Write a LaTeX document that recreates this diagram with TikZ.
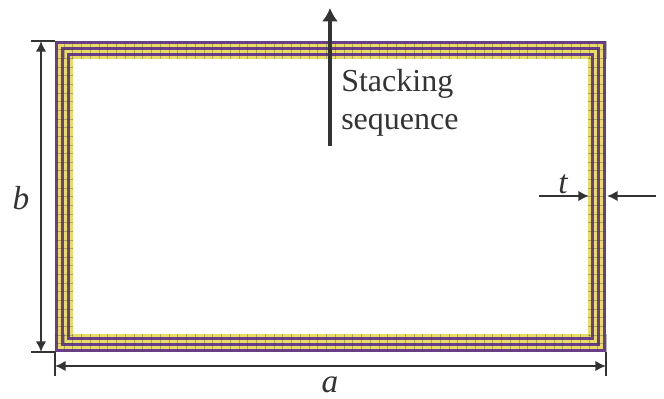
\documentclass[tikz,border=0pt]{standalone}
\usepackage{fontspec}
\setmainfont{Liberation Serif}
\usetikzlibrary{calc,arrows.meta,positioning}
\definecolor{plyA}{RGB}{106,62,138}
\definecolor{plyB}{RGB}{232,220,100}
\definecolor{inkc}{RGB}{51,51,51}
\tikzset{
  dimline/.style={draw=inkc,line width=1.9pt,{Latex[length=8pt,width=8pt]}-{Latex[length=8pt,width=8pt]}},
  arrline/.style={draw=inkc,line width=1.9pt,-{Latex[length=8pt,width=8pt]}},
  stackline/.style={draw=inkc,line width=3.6pt,-{Latex[length=10pt,width=12pt]}},
  extline/.style={draw=inkc,line width=1pt},
  meshline/.style={draw=black!75,line width=0.25pt,opacity=0.35},
  lbl/.style={inner sep=0pt,text=inkc,font=\fontsize{24}{24}\selectfont},
  vlbl/.style={inner sep=0pt,text=inkc,font=\fontsize{25}{25}\selectfont\itshape}
}
\begin{document}
\begin{tikzpicture}[x=0.75pt,y=-0.75pt,inner sep=0.4mm]
\useasboundingbox (0,0) rectangle (664,399);
\coordinate (p1) at (55,41);
\coordinate (p2) at (606,352);

% plies, outer to inner
\foreach \i/\c in {0/plyA,1/plyB,2/plyA,3/plyB,4/plyA,5/plyB}{
  \fill[\c] ($(p1)+(3*\i,3*\i)$) rectangle ($(p2)+(-3*\i,-3*\i)$);
}
\fill[white] (73,59) rectangle (588,334);

% mesh
\foreach \x in {0,...,63}{
  \draw[meshline] ({55+8.75*\x},41) -- ({55+8.75*\x},59);
  \draw[meshline] ({55+8.75*\x},334) -- ({55+8.75*\x},352);
}
\foreach \y in {0,...,35}{
  \draw[meshline] (55,{41+8.64*\y}) -- (73,{41+8.64*\y});
  \draw[meshline] (588,{41+8.64*\y}) -- (606,{41+8.64*\y});
}

% stacking arrow
\coordinate (s1) at (330,146);
\coordinate (s2) at (330,8);
\draw[stackline] (s1) -- (s2);
\node[lbl,anchor=base west] (stk) at (341,92) {Stacking};
\node[lbl,anchor=base west] (seq) at (341,130) {sequence};

% b
\coordinate (b1) at (31,41);
\coordinate (b2) at (31,352);
\coordinate (b3) at (41,41);
\coordinate (b4) at (41,352);
\draw[extline] (b1) -- (p1);
\draw[extline] (b2) -- (55,352);
\draw[dimline] (b3) -- (b4);
\node[vlbl] (b) at (21,198) {b};

% a
\coordinate (a1) at (55,352);
\coordinate (a2) at (606,352);
\coordinate (a3) at (55,366);
\coordinate (a4) at (606,366);
\draw[extline] (a1) -- (55,376);
\draw[extline] (a2) -- (606,376);
\draw[dimline] (a3) -- (a4);
\node[vlbl] (a) at (330,385) {a};

% t
\coordinate (t1) at (539,196);
\coordinate (t2) at (589,196);
\coordinate (t3) at (656,196);
\coordinate (t4) at (607,196);
\draw[arrline] (t1) -- (t2);
\draw[arrline] (t3) -- (t4);
\node[vlbl] (t) at (563,184) {t};
\end{tikzpicture}
\end{document}
